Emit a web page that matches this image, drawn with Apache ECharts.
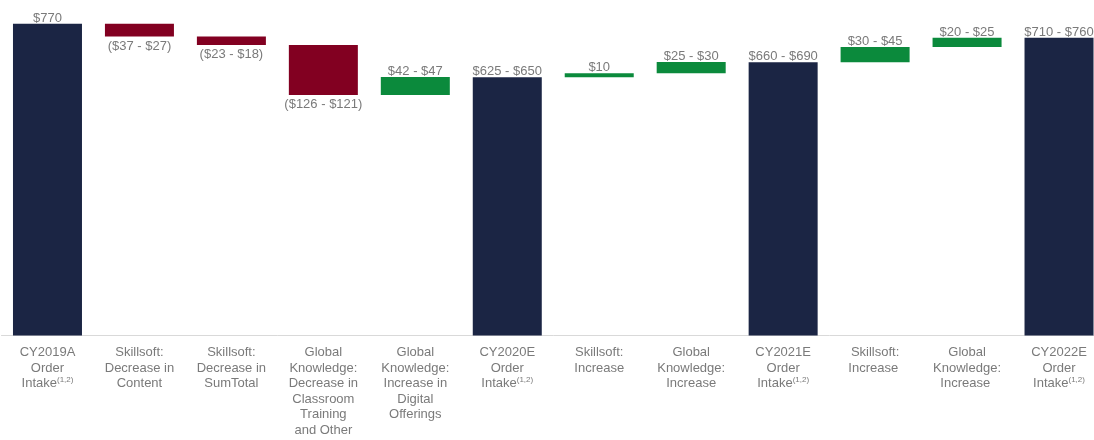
<!DOCTYPE html>
<html>
<head>
<meta charset="utf-8">
<script src="https://cdn.jsdelivr.net/npm/echarts@6/dist/echarts.min.js"></script>
<style>
html,body{margin:0;padding:0;background:#fff;overflow:hidden;width:1094px;height:440px;}
#chart{width:1105px;height:440px;}
</style>
</head>
<body>
<div id="chart"></div>
<script>
// Category labels (axis)
var categories = [
  "CY2019A\nOrder\nIntake{sup|(1,2)}",
  "Skillsoft:\nDecrease in\nContent",
  "Skillsoft:\nDecrease in\nSumTotal",
  "Global\nKnowledge:\nDecrease in\nClassroom\nTraining\nand Other",
  "Global\nKnowledge:\nIncrease in\nDigital\nOfferings",
  "CY2020E\nOrder\nIntake{sup|(1,2)}",
  "Skillsoft:\nIncrease",
  "Global\nKnowledge:\nIncrease",
  "CY2021E\nOrder\nIntake{sup|(1,2)}",
  "Skillsoft:\nIncrease ",
  "Global\nKnowledge:\nIncrease ",
  "CY2022E\nOrder\nIntake{sup|(1,2)}"
];
// Bar type: total, decrease, increase
var barTypes = ["total","dec","dec","dec","inc","total","inc","inc","total","inc","inc","total"];
// Values (midpoint of stated range; signed for changes)
var values = [770, -32, -20.5, -123.5, 44.5, 637.5, 10, 27.5, 675, 37.5, 22.5, 735];
// Data labels shown on the chart
var valueLabels = ["$770","($37 - $27)","($23 - $18)","($126 - $121)","$42 - $47","$625 - $650",
  "$10","$25 - $30","$660 - $690","$30 - $45","$20 - $25","$710 - $760"];

var colors = {total:"#1b2544", dec:"#820021", inc:"#0b8a3c"};

var baseData = [], barData = [];
var running = 0;
for (var i = 0; i < values.length; i++) {
  var t = barTypes[i], v = values[i], base, h;
  if (t === "total") { base = 0; h = v; running = v; }
  else if (t === "dec") { base = running + v; h = -v; running += v; }
  else { base = running; h = v; running += v; }
  baseData.push(base);
  barData.push({
    value: h,
    itemStyle: {color: colors[t]},
    label: {position: t === "dec" ? "bottom" : "top", distance: t === "dec" ? 3 : -1, formatter: valueLabels[i]}
  });
}

var chart = echarts.init(document.getElementById('chart'), null, {renderer:'canvas'});
chart.setOption({
  animation: false,
  backgroundColor: '#ffffff',
  grid: {left: 1.5, right: 0, top: 11.5, bottom: 104.5, containLabel: false},
  xAxis: {
    type: 'category',
    data: categories,
    axisTick: {show: false},
    axisLine: {lineStyle: {color: '#d9d9d9', width: 1}},
    axisLabel: {
      interval: 0,
      margin: 9.5,
      color: '#7a7a7a',
      fontFamily: 'Liberation Sans, Arial, sans-serif',
      fontSize: 13,
      lineHeight: 15.5,
      align: 'center',
      rich: {
        sup: {fontSize: 8, color: '#7a7a7a', fontFamily: 'Liberation Sans, Arial, sans-serif', verticalAlign: 'top', lineHeight: 15.5, padding: [0,0,4,0]}
      }
    }
  },
  yAxis: {
    type: 'value', min: 0, max: 800, show: false,
    splitLine: {show: false}
  },
  series: [
    {
      type: 'bar', stack: 'w', data: baseData, barWidth: 69,
      itemStyle: {color: 'transparent'}, silent: true
    },
    {
      type: 'bar', stack: 'w', data: barData, barWidth: 69,
      label: {
        show: true, color: '#7a7a7a',
        fontFamily: 'Liberation Sans, Arial, sans-serif', fontSize: 13
      }
    }
  ]
});
</script>
</body>
</html>
